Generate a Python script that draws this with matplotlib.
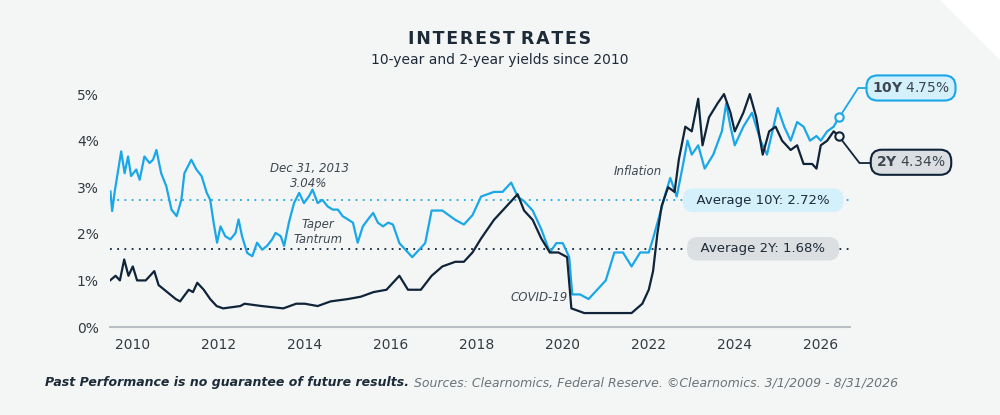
import matplotlib.pyplot as plt
from matplotlib.patches import Polygon

# approximate readings from the picture (decimal year, %)
t10 = [2009.48, 2009.52, 2009.58, 2009.73, 2009.81, 2009.89, 2009.96, 2010.08, 2010.16, 2010.27,
       2010.39, 2010.47, 2010.55, 2010.66, 2010.78, 2010.9, 2011.02, 2011.13, 2011.2, 2011.36,
       2011.48, 2011.6, 2011.72, 2011.8, 2011.88, 2011.96, 2012.04, 2012.15, 2012.27, 2012.39,
       2012.46, 2012.54, 2012.66, 2012.78, 2012.89, 2013.01, 2013.12, 2013.24, 2013.32, 2013.44,
       2013.52, 2013.63, 2013.75, 2013.87, 2013.98, 2014.1, 2014.18, 2014.3, 2014.41, 2014.53,
       2014.65, 2014.77, 2014.88, 2015.0, 2015.12, 2015.23, 2015.35, 2015.47, 2015.59, 2015.7,
       2015.82, 2015.94, 2016.05, 2016.2, 2016.5, 2016.8, 2016.95, 2017.2, 2017.5, 2017.7,
       2017.9, 2018.1, 2018.4, 2018.6, 2018.8, 2018.95, 2019.1, 2019.3, 2019.5, 2019.7,
       2019.85, 2020.0, 2020.15, 2020.22, 2020.4, 2020.6, 2020.8, 2021.0, 2021.2, 2021.4,
       2021.6, 2021.8, 2022.0, 2022.1, 2022.25, 2022.4, 2022.5, 2022.65, 2022.8, 2022.9,
       2023.0, 2023.15, 2023.3, 2023.5, 2023.7, 2023.8, 2023.9, 2024.0, 2024.2, 2024.4,
       2024.6, 2024.75, 2024.9, 2025.0, 2025.15, 2025.3, 2025.45, 2025.6, 2025.75, 2025.9,
       2026.0, 2026.15, 2026.3, 2026.42]
y10 = [2.91, 2.49, 2.91, 3.77, 3.3, 3.66, 3.24, 3.38, 3.16, 3.66,
       3.52, 3.59, 3.8, 3.3, 3.02, 2.52, 2.38, 2.73, 3.3, 3.59,
       3.38, 3.24, 2.88, 2.73, 2.24, 1.81, 2.16, 1.95, 1.88, 2.02,
       2.31, 1.95, 1.59, 1.52, 1.81, 1.66, 1.74, 1.88, 2.02, 1.95,
       1.74, 2.24, 2.66, 2.88, 2.66, 2.81, 2.95, 2.66, 2.73, 2.59,
       2.52, 2.52, 2.38, 2.31, 2.24, 1.81, 2.16, 2.31, 2.45, 2.24,
       2.16, 2.24, 2.2, 1.8, 1.5, 1.8, 2.5, 2.5, 2.3, 2.2,
       2.4, 2.8, 2.9, 2.9, 3.1, 2.8, 2.7, 2.5, 2.1, 1.6,
       1.8, 1.8, 1.5, 0.7, 0.7, 0.6, 0.8, 1.0, 1.6, 1.6,
       1.3, 1.6, 1.6, 1.9, 2.4, 2.9, 3.2, 2.8, 3.5, 4.0,
       3.7, 3.9, 3.4, 3.7, 4.2, 4.8, 4.3, 3.9, 4.3, 4.6,
       4.0, 3.7, 4.3, 4.7, 4.3, 4.0, 4.4, 4.3, 4.0, 4.1,
       4.0, 4.2, 4.3, 4.5]

t2 = [2009.47, 2009.6, 2009.7, 2009.8, 2009.9, 2010.0, 2010.1, 2010.3, 2010.5, 2010.6,
      2010.8, 2011.0, 2011.1, 2011.3, 2011.4, 2011.5, 2011.65, 2011.8, 2011.95, 2012.1,
      2012.5, 2012.6, 2013.0, 2013.5, 2013.8, 2014.0, 2014.3, 2014.6, 2015.0, 2015.3,
      2015.6, 2015.9, 2016.0, 2016.2, 2016.4, 2016.7, 2016.95, 2017.2, 2017.5, 2017.7,
      2017.9, 2018.1, 2018.4, 2018.7, 2018.95, 2019.1, 2019.3, 2019.5, 2019.7, 2019.9,
      2020.1, 2020.2, 2020.5, 2020.8, 2021.2, 2021.6, 2021.85, 2022.0, 2022.1, 2022.2,
      2022.3, 2022.45, 2022.6, 2022.7, 2022.85, 2023.0, 2023.15, 2023.25, 2023.4, 2023.6,
      2023.75, 2023.9, 2024.0, 2024.2, 2024.35, 2024.5, 2024.65, 2024.8, 2024.95, 2025.1,
      2025.3, 2025.45, 2025.6, 2025.8, 2025.9, 2026.0, 2026.15, 2026.3, 2026.42]
y2 = [1.0, 1.1, 1.0, 1.45, 1.1, 1.3, 1.0, 1.0, 1.2, 0.9,
      0.75, 0.6, 0.55, 0.8, 0.75, 0.95, 0.8, 0.6, 0.45, 0.4,
      0.45, 0.5, 0.45, 0.4, 0.5, 0.5, 0.45, 0.55, 0.6, 0.65,
      0.75, 0.8, 0.9, 1.1, 0.8, 0.8, 1.1, 1.3, 1.4, 1.4,
      1.6, 1.9, 2.3, 2.6, 2.85, 2.5, 2.3, 1.9, 1.6, 1.6,
      1.5, 0.4, 0.3, 0.3, 0.3, 0.3, 0.5, 0.8, 1.2, 2.0,
      2.6, 3.0, 2.9, 3.6, 4.3, 4.2, 4.9, 3.9, 4.5, 4.8,
      5.0, 4.6, 4.2, 4.6, 5.0, 4.5, 3.7, 4.2, 4.3, 4.0,
      3.8, 3.9, 3.5, 3.5, 3.4, 3.9, 4.0, 4.2, 4.1]

avg10 = 2.72
avg2 = 1.68
last10 = 4.75
last2 = 4.34
year_ticks = [2010, 2012, 2014, 2016, 2018, 2020, 2022, 2024, 2026]
pct_ticks = [0, 1, 2, 3, 4, 5]

c10 = "#1aa7e8"
c2 = "#0f2438"
bg = "#f4f6f6"

fig = plt.figure(figsize=(10, 4.15), dpi=100, facecolor=bg)
fig.patches.append(Polygon([[0.94, 1], [1, 1], [1, 0.855]], closed=True,
                           transform=fig.transFigure, facecolor="white", edgecolor="none"))
ax = fig.add_axes([0.11, 0.212, 0.74, 0.595])
ax.set_facecolor(bg)
ax.set_xlim(2009.47, 2026.68)
ax.set_ylim(0, 5.3)

ax.axhline(avg10, color=c10, ls=(0, (1, 3)), lw=1.3)
ax.axhline(avg2, color=c2, ls=(0, (1, 3)), lw=1.3)
ax.plot(t10, y10, color=c10, lw=1.6, zorder=3)
ax.plot(t2, y2, color=c2, lw=1.6, zorder=4)
ax.plot(t10[-1], y10[-1], "o", ms=6, mfc=bg, mec=c10, mew=1.5, zorder=5)
ax.plot(t2[-1], y2[-1], "o", ms=6, mfc=bg, mec=c2, mew=1.5, zorder=5)

for s in ["top", "right", "left"]:
    ax.spines[s].set_visible(False)
ax.spines["bottom"].set_color("#b8bec2")
ax.spines["bottom"].set_linewidth(1.5)
ax.set_xticks(year_ticks)
ax.set_xticklabels([str(y) for y in year_ticks])
ax.set_yticks(pct_ticks)
ax.set_yticklabels([f"{p}%" for p in pct_ticks])
ax.tick_params(length=0, labelsize=10, labelcolor="#333a40", pad=8)

# annotations
ann = dict(fontsize=8.5, style="italic", color="#3d4750", ha="center", va="center")
ax.text(2014.1, 3.25, "Dec 31, 2013\n3.04%", **ann)
ax.text(2014.3, 2.05, "Taper\nTantrum", **ann)
ax.text(2021.75, 3.33, "Inflation", **ann)
ax.text(2019.45, 0.64, "COVID-19", **ann)

# average labels
box10 = dict(boxstyle="round,pad=0.4,rounding_size=0.8", fc="#d4f0fb", ec="none")
box2 = dict(boxstyle="round,pad=0.4,rounding_size=0.8", fc="#dcdfe2", ec="none")
ax.text(2024.66, avg10, "  Average 10Y: 2.72%  ", fontsize=9.5, fontweight="medium", color="#1d2b38",
        ha="center", va="center", zorder=6, bbox=box10)
ax.text(2024.66, avg2, "  Average 2Y: 1.68%  ", fontsize=9.5, fontweight="medium", color="#1d2b38",
        ha="center", va="center", zorder=6, bbox=box2)

# end labels with connectors
ax.plot([t10[-1] + 0.08, 2026.87, 2027.2], [y10[-1] + 0.1, 5.13, 5.13], color=c10, lw=1.3,
        clip_on=False, zorder=5)
ax.plot([t2[-1] + 0.08, 2026.9, 2027.2], [y2[-1] - 0.1, 3.52, 3.52], color=c2, lw=1.3,
        clip_on=False, zorder=5)
fig.text(0.911, 0.788, r"$\bf{10Y}$" + f" {last10:.2f}%", fontsize=10, color="#3d4750",
         ha="center", va="center",
         bbox=dict(boxstyle="round,pad=0.4,rounding_size=0.8", fc="#d4f0fb", ec=c10, lw=1.5))
fig.text(0.911, 0.609, r"$\bf{2Y}$" + f" {last2:.2f}%", fontsize=10, color="#3d4750",
         ha="center", va="center",
         bbox=dict(boxstyle="round,pad=0.4,rounding_size=0.8", fc="#dcdfe2", ec=c2, lw=1.5))

fig.text(0.5, 0.893, "I N T E R E S T   R A T E S".replace(" ", "\u200a").replace("\u200a\u200a\u200a", " "),
         fontsize=12.5, fontweight="bold", color="#1d2b38", ha="center")
fig.text(0.5, 0.845, "10-year and 2-year yields since 2010", fontsize=10, color="#1d2b38", ha="center")

t = fig.text(0.045, 0.069, "Past Performance is no guarantee of future results.", fontsize=9,
             style="italic", fontweight="bold", color="#1d2b38")
fig.canvas.draw()
bb = t.get_window_extent().transformed(fig.transFigure.inverted())
fig.text(bb.x1 + 0.005, 0.069, "Sources: Clearnomics, Federal Reserve. ©Clearnomics. 3/1/2009 - 8/31/2026",
         fontsize=9, style="italic", color="#6b7378")

fig.savefig("out.png", dpi=100, facecolor=bg)
